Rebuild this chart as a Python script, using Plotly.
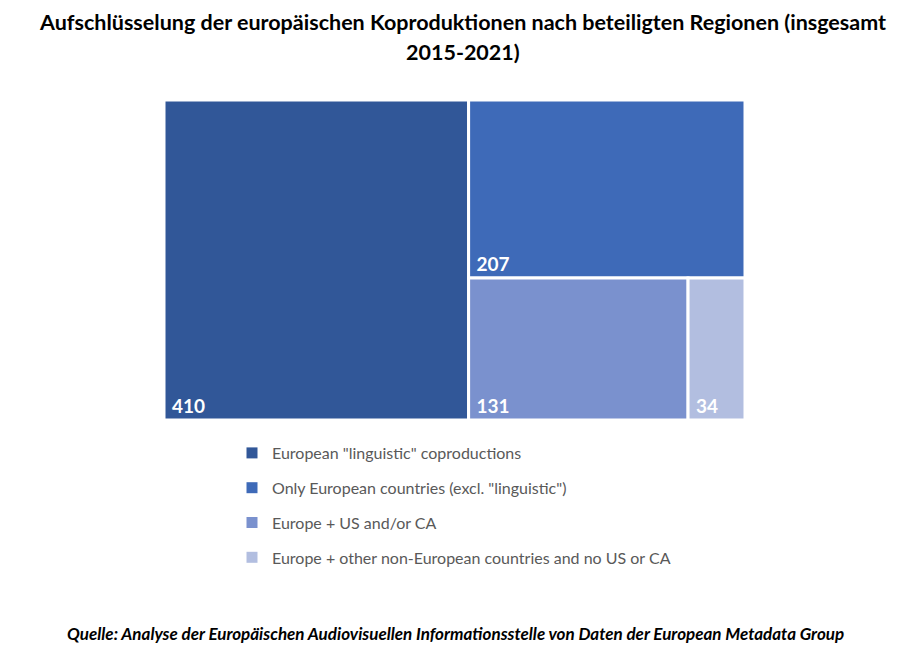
import plotly.graph_objects as go

labels = ['European "linguistic" coproductions',
          'Only European countries (excl. "linguistic")',
          'Europe + US and/or CA',
          'Europe + other non-European countries and no US or CA']
values = [410, 207, 131, 34]
colors = ["#315798", "#3E6AB8", "#7A91CE", "#B2BEE0"]

title_lines = ["Aufschlüsselung der europäischen Koproduktionen nach beteiligten Regionen (insgesamt",
               "2015-2021)"]
source_text = ("Quelle: Analyse der Europäischen Audiovisuellen Informationsstelle von Daten der "
               "European Metadata Group")

W, H = 909, 649
font_name = "Lato"

fig = go.Figure()

fig.add_trace(go.Treemap(
    labels=labels,
    parents=[""] * len(labels),
    values=values,
    sort=True,
    marker=dict(colors=colors, line=dict(color="white", width=3),
                pad=dict(t=0, l=0, r=0, b=0)),
    texttemplate="&nbsp;<b>%{value}</b>",
    textposition="bottom left",
    textfont=dict(family=font_name, size=19, color="white"),
    tiling=dict(packing="squarify", squarifyratio=1, pad=0),
    pathbar=dict(visible=False),
    hoverinfo="skip",
    domain=dict(x=[156 / W, 737 / W], y=[1 - 412 / H, 1 - 92 / H]),
))

# legend entries (treemap has no legend of its own)
for i, (lab, col) in enumerate(zip(labels, colors)):
    fig.add_trace(go.Scatter(
        x=[None], y=[None], mode="markers",
        marker=dict(symbol="square", size=11, color=col),
        name=lab, legendgroup=f"g{i}", showlegend=True, hoverinfo="skip",
    ))

title_ann = [dict(text=f"<b>{t}</b>", x=0.5, y=1 - yy / H,
                  xref="paper", yref="paper", xanchor="center", yanchor="middle",
                  showarrow=False, font=dict(family=font_name, size=21.5, color="black"))
             for t, yy in zip(title_lines, [14, 44])]

fig.update_layout(
    width=W, height=H,
    margin=dict(l=0, r=0, t=0, b=0),
    paper_bgcolor="white", plot_bgcolor="white",
    font=dict(family=font_name),
    xaxis=dict(visible=False), yaxis=dict(visible=False),
    legend=dict(x=224 / W, y=1 - 428 / H, xanchor="left", yanchor="top",
                orientation="v", tracegroupgap=11, traceorder="grouped",
                font=dict(family=font_name, size=16, color="#595959"),
                bgcolor="rgba(0,0,0,0)"),
    annotations=title_ann + [
        dict(text=f"<b><i>{source_text}</i></b>", x=0.492, y=1 - 625 / H,
             xref="paper", yref="paper", xanchor="center", yanchor="middle",
             showarrow=False, font=dict(family=font_name, size=17, color="black")),
    ],
)

fig.write_html("out.html")
